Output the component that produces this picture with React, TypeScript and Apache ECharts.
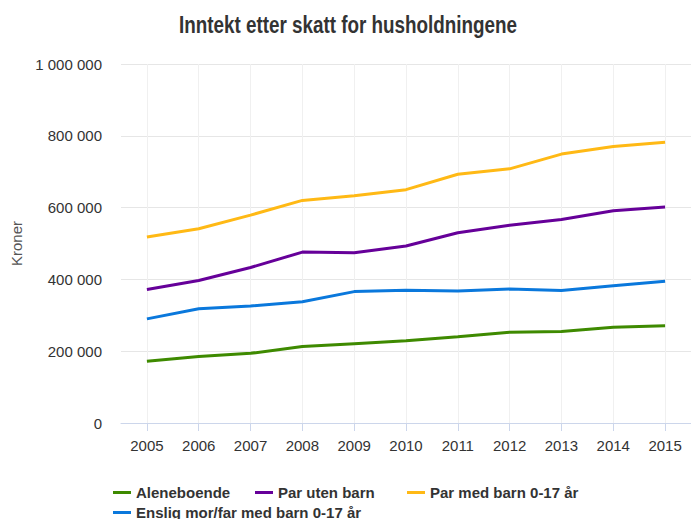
import React, { useEffect, useRef } from "react";
import * as echarts from "echarts";

const years = ["2005", "2006", "2007", "2008", "2009", "2010", "2011", "2012", "2013", "2014", "2015"];
const aleneboende = [172000, 185000, 194000, 213000, 221000, 229000, 240000, 253000, 255000, 267000, 271000];
const parUtenBarn = [372000, 397000, 433000, 476000, 474000, 493000, 530000, 551000, 567000, 591000, 602000];
const parMedBarn = [518000, 541000, 579000, 620000, 633000, 650000, 693000, 708000, 749000, 770000, 782000];
const ensligMorFar = [290000, 318000, 326000, 338000, 366000, 370000, 368000, 373000, 369000, 382000, 395000];
const seriesNames = ["Aleneboende", "Par uten barn", "Par med barn 0-17 år", "Enslig mor/far med barn 0-17 år"];
const seriesColors = ["#3e8a00", "#660099", "#ffb915", "#0a78dc"];
const titleText = "Inntekt etter skatt for husholdningene";

const FONT = '"Liberation Sans", Arial, sans-serif';

const fmt = (v: number) => String(v).replace(/\B(?=(\d{3})+(?!\d))/g, " ");

export default function App() {
  const ref = useRef<HTMLDivElement>(null);
  useEffect(() => {
    if (!ref.current) return;
    const chart = echarts.init(ref.current, null, { renderer: "svg" });
    const data = [aleneboende, parUtenBarn, parMedBarn, ensligMorFar];
    const legendText = { fontFamily: FONT, fontSize: 15, fontWeight: "bold" as const, color: "#333333" };
    const legendPos = [
      { left: 108, top: 480 },
      { left: 250, top: 480 },
      { left: 402, top: 480 },
      { left: 108, top: 500 },
    ];
    chart.setOption({
      animation: false,
      backgroundColor: "#ffffff",
      textStyle: { fontFamily: FONT },
      graphic: [
        {
          type: "text",
          x: 348,
          y: 25,
          scaleX: 0.82,
          style: {
            text: titleText,
            font: 'bold 23px "Liberation Sans", Arial, sans-serif',
            fill: "#333333",
            align: "center",
            verticalAlign: "middle",
          },
        },
      ],
      legend: seriesNames.map((n, i) => ({
        data: [n],
        left: legendPos[i].left,
        top: legendPos[i].top,
        icon: "rect",
        itemWidth: 18,
        itemHeight: 3,
        textStyle: legendText,
      })),
      grid: { left: 121, top: 64, width: 572, bottom: 96, containLabel: false },
      xAxis: {
        type: "category",
        data: years,
        boundaryGap: true,
        axisLine: { show: true, lineStyle: { color: "#ccd6eb", width: 1 } },
        axisTick: { show: true, alignWithLabel: true, length: 8, lineStyle: { color: "#ccd6eb" } },
        splitLine: { show: true, alignWithLabel: true, lineStyle: { color: "#f0f0f0", width: 1 } },
        axisLabel: { fontFamily: FONT, fontSize: 15, color: "#333333", margin: 15 },
      },
      yAxis: {
        type: "value",
        min: 0,
        max: 1000000,
        interval: 200000,
        name: "Kroner",
        nameLocation: "middle",
        nameGap: 97,
        nameRotate: 90,
        nameTextStyle: { fontFamily: FONT, fontSize: 15, color: "#555555" },
        axisLine: { show: false },
        axisTick: { show: false },
        splitLine: { show: true, lineStyle: { color: "#e6e6e6", width: 1 } },
        axisLabel: { fontFamily: FONT, fontSize: 15, color: "#333333", margin: 19, formatter: (v: number) => fmt(v) },
      },
      series: data.map((d, i) => ({
        name: seriesNames[i],
        type: "line",
        data: d,
        symbol: "none",
        color: seriesColors[i],
        lineStyle: { width: 3, color: seriesColors[i] },
      })),
    });
    return () => chart.dispose();
  }, []);
  return <div ref={ref} style={{ position: "fixed", left: 0, top: 0, width: 691, height: 519 }} />;
}
